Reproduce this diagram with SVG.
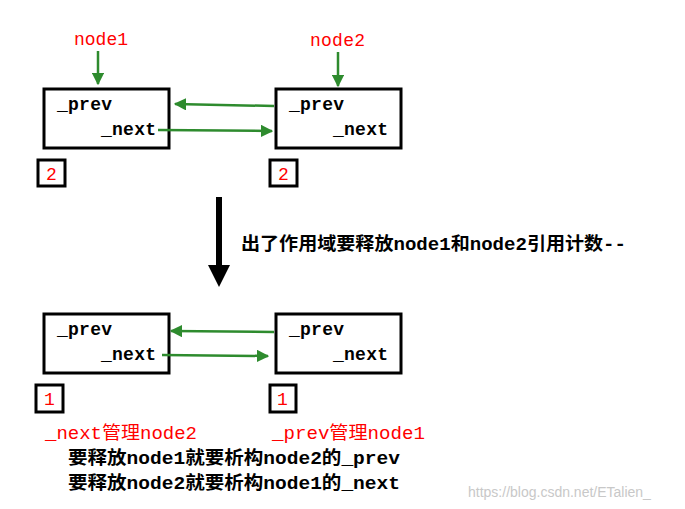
<svg xmlns="http://www.w3.org/2000/svg" width="685" height="509" viewBox="0 0 685 509">
<style>
.box{fill:none;stroke:#000;stroke-width:3}
.t{font-family:"Liberation Mono","Noto Sans CJK SC",monospace;font-size:18px;font-weight:bold;fill:#000}
.r{fill:#ff0000;font-weight:normal}
.g{stroke:#2e8b2e;stroke-width:2.5;fill:none}
</style>
<defs>
<marker id="ga" viewBox="0 0 10 10" refX="9" refY="5" markerWidth="5" markerHeight="5" orient="auto"><path d="M0,0 L10,5 L0,10 z" fill="#2e8b2e"/></marker>
</defs>
<rect width="685" height="509" fill="#fff"/>
<g id="label-node1"><text class="t r" x="74" y="45" textLength="54">node1</text></g>
<g id="label-node2"><text class="t r" x="310" y="46" textLength="55">node2</text></g>
<g id="node1-top"><rect class="box" x="44" y="89" width="125" height="59"/><text class="t" x="57" y="110" textLength="55">_prev</text><text class="t" x="101" y="135" textLength="55">_next</text></g>
<g id="node2-top"><rect class="box" x="276" y="89" width="125" height="59"/><text class="t" x="289" y="110" textLength="55">_prev</text><text class="t" x="333" y="135" textLength="55">_next</text></g>
<g id="cnt1-top"><rect class="box" x="38" y="160" width="27" height="26"/><text class="t r" x="46" y="180">2</text></g>
<g id="cnt2-top"><rect class="box" x="270" y="160" width="27" height="26"/><text class="t r" x="278" y="180">2</text></g>
<g id="node1-bot"><rect class="box" x="44" y="314" width="125" height="59"/><text class="t" x="57" y="335" textLength="55">_prev</text><text class="t" x="101" y="360" textLength="55">_next</text></g>
<g id="node2-bot"><rect class="box" x="276" y="314" width="125" height="59"/><text class="t" x="289" y="335" textLength="55">_prev</text><text class="t" x="333" y="360" textLength="55">_next</text></g>
<g id="cnt1-bot"><rect class="box" x="36" y="385" width="27" height="27"/><text class="t r" x="44" y="405">1</text></g>
<g id="cnt2-bot"><rect class="box" x="270" y="385" width="26" height="27"/><text class="t r" x="277" y="405">1</text></g>
<g id="connectors">
<path class="g" d="M98,51 V84" marker-end="url(#ga)"/>
<path class="g" d="M338,52 V86" marker-end="url(#ga)"/>
<path class="g" d="M274,106 L175,104" marker-end="url(#ga)"/>
<path class="g" d="M158,130 L272,131" marker-end="url(#ga)"/>
<path class="g" d="M274,332 L171,331" marker-end="url(#ga)"/>
<path class="g" d="M162,355 L268,356" marker-end="url(#ga)"/>
<path d="M216,197 H222 V265 H230 L219,287 L208,265 H216 Z" fill="#000"/>
</g>
<g id="notes">
<text class="t" x="241" y="250" textLength="385" lengthAdjust="spacingAndGlyphs">出了作用域要释放node1和node2引用计数--</text>
<text class="t r" x="45" y="439" textLength="152" lengthAdjust="spacingAndGlyphs">_next管理node2</text>
<text class="t r" x="272" y="439" textLength="153" lengthAdjust="spacingAndGlyphs">_prev管理node1</text>
<text class="t" x="68" y="464" textLength="332" lengthAdjust="spacingAndGlyphs">要释放node1就要析构node2的_prev</text>
<text class="t" x="68" y="489" textLength="332" lengthAdjust="spacingAndGlyphs">要释放node2就要析构node1的_next</text>
<text x="468" y="497" font-family="Liberation Sans,sans-serif" font-size="14" fill="#c8c8c8">https://blog.csdn.net/ETalien_</text>
</g>
</svg>
